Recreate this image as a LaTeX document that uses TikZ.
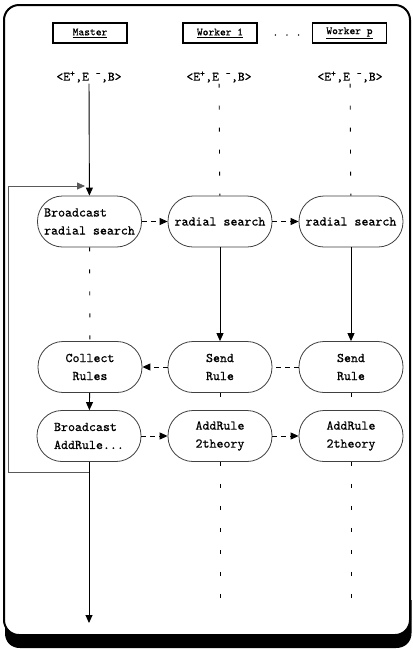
\documentclass[tikz,border=0pt]{standalone}
\usepackage{fontspec}
\setmonofont{lmmono10-regular.otf}[FakeBold=0.6]
\usetikzlibrary{arrows.meta}
\begin{document}
\begin{tikzpicture}[x=1pt,y=-1pt,
  proc/.style={draw=black!75, line width=0.8pt, rounded corners=25pt, minimum width=104pt, minimum height=51pt, inner sep=0pt, font=\fontsize{13.3}{18}\selectfont\ttfamily, align=center, fill=white},
  hdr/.style={draw, line width=1.8pt, minimum width=74pt, minimum height=20pt, inner sep=0pt, font=\fontsize{11}{12}\selectfont\ttfamily},
  lbl/.style={font=\fontsize{13}{14}\selectfont\ttfamily, inner sep=1pt},
  life/.style={line width=0.9pt, dash pattern=on 4pt off 18pt},
  msg/.style={line width=0.9pt, dash pattern=on 5pt off 4pt},
  sline/.style={line width=0.9pt},
  loopline/.style={line width=0.8pt, draw=black!65},
  tip/.style={-{Triangle[length=8pt,width=7pt]}},
  graytip/.style={-{Triangle[length=8pt,width=7pt,color=black!65]}}
]
\useasboundingbox (0,0) rectangle (413,649);
% shadow (frame shifted down)
\fill[black] (5,600) -- (5,633) .. controls (5,642) and (11,648) .. (20,648)
  -- (396,648) .. controls (405,648) and (411.5,642) .. (411.5,633) -- (411.5,600) -- cycle;
% frame
\path[draw=black, line width=2pt, fill=white, rounded corners=15pt] (4,5) rectangle (410,635);

% headers
\node[hdr] (hm) at (90,33) {\underline{Master}};
\node[hdr] (h1) at (220,33) {\underline{Worker 1}};
\node[hdr] (hp) at (349.5,33) {\underline{Worker p}};
\node[font=\fontsize{11}{12}\selectfont\ttfamily, inner sep=0pt] (dots) at (287,35) {. . .};

% labels
\node[lbl] (e0) at (89,77) {<E\textsuperscript{+},E \textsuperscript{-},B>};
\node[lbl] (e1) at (219,77) {<E\textsuperscript{+},E \textsuperscript{-},B>};
\node[lbl] (ep) at (350,77) {<E\textsuperscript{+},E \textsuperscript{-},B>};

% row 1
\node[proc, align=left] (bc1) at (89.5,221.5) {Broadcast\\radial search};
\node[proc] (rs1) at (220,221.5) {radial search};
\node[proc] (rsp) at (351,221.5) {radial search};
% row 2
\node[proc] (col) at (90,367) {Collect\\Rules};
\node[proc] (sr1) at (220,367) {Send\\Rule};
\node[proc] (srp) at (351,367) {Send\\Rule};
% row 3
\node[proc, align=left] (bc2) at (89,436) {Broadcast\\AddRule...};
\node[proc] (ar1) at (220,436) {AddRule\\2theory};
\node[proc] (arp) at (351,436) {AddRule\\2theory};

% coordinates
\coordinate (mend) at (89,623);
\coordinate (end1) at (220,600);
\coordinate (endp) at (351,600);
\coordinate (lp1) at (89,472);
\coordinate (lc1) at (8,472);
\coordinate (lc2) at (8,186);
\coordinate (lp2) at (85,186);

% master lifeline
\draw[sline,tip] (e0) -- (bc1);
\draw[life] (bc1) -- (col);
\draw[sline,tip] (col) -- (bc2);
\draw[sline,tip] (bc2) -- (mend);
\draw[loopline,graytip] (lp1) -- (lc1) -- (lc2) -- (lp2);

% worker lifelines
\draw[life] (e1) -- (rs1);
\draw[sline,tip] (rs1) -- (sr1);
\draw[life] (sr1) -- (ar1);
\draw[life] (ar1) -- (end1);
\draw[life] (ep) -- (rsp);
\draw[sline,tip] (rsp) -- (srp);
\draw[life] (srp) -- (arp);
\draw[life] (arp) -- (endp);

% messages
\draw[msg,tip] (bc1) -- (rs1);
\draw[msg,tip] (rs1) -- (rsp);
\draw[msg,tip] (sr1) -- (col);
\draw[msg] (srp) -- (sr1);
\draw[msg,tip] (bc2) -- (ar1);
\draw[msg,tip] (ar1) -- (arp);
\end{tikzpicture}
\end{document}
